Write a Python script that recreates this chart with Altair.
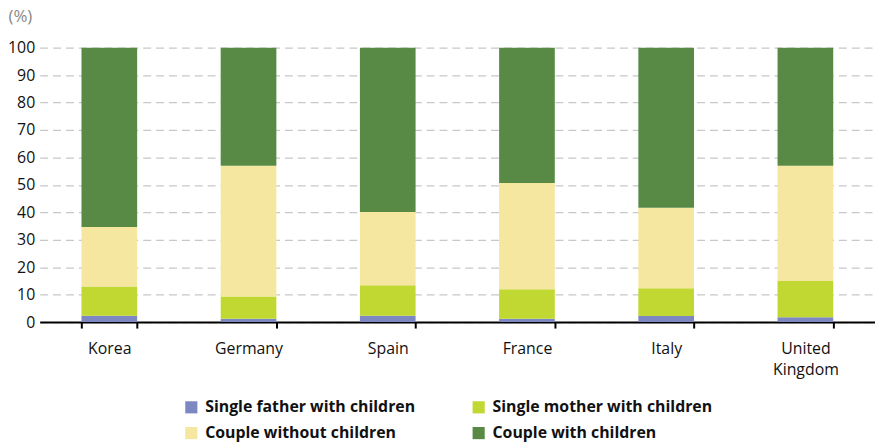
import altair as alt
import pandas as pd

countries = ["Korea", "Germany", "Spain", "France", "Italy", "United Kingdom"]
series = ["Single father with children", "Single mother with children",
          "Couple without children", "Couple with children"]
single_father = [2.3, 1.2, 2.3, 1.2, 2.2, 1.8]
single_mother = [10.7, 8.1, 11.1, 10.8, 10.1, 13.2]
couple_without = [21.7, 47.7, 26.7, 38.7, 29.4, 42.0]
couple_with = [65.3, 43.0, 59.9, 49.3, 58.3, 43.0]
colors = ["#7d87c2", "#c1d832", "#f5e6a0", "#588a45"]
y_ticks = [0, 10, 20, 30, 40, 50, 60, 70, 80, 90, 100]

rows = []
for i, c in enumerate(countries):
    for j, (s, vals) in enumerate(zip(series, [single_father, single_mother, couple_without, couple_with])):
        rows.append({"country": c, "series": s, "value": vals[i], "order": j})
df = pd.DataFrame(rows)

# legend is laid out column-major, so order the domain to read row-wise
legend_domain = [series[0], series[2], series[1], series[3]]
legend_range = [colors[0], colors[2], colors[1], colors[3]]

FONT = "Open Sans"

chart = alt.Chart(df).mark_bar().encode(
    x=alt.X("country:N", sort=countries,
            scale=alt.Scale(paddingInner=0.6, paddingOuter=0.3),
            axis=alt.Axis(title=None, labelAngle=0, tickBand="extent", domainColor="#000000",
                          domainWidth=2, tickColor="#000000", tickWidth=2, tickSize=6,
                          labelPadding=13, labelFontSize=16, labelColor="#111111", labelFont=FONT,
                          labelExpr="datum.label == 'United Kingdom' ? ['United', 'Kingdom'] : datum.label",
                          labelLineHeight=21, labelBaseline="top", grid=False)),
    y=alt.Y("value:Q", stack="zero",
            scale=alt.Scale(domain=[0, 100], nice=False),
            axis=alt.Axis(values=y_ticks, title="(%)", titleAngle=0, titleX=-32, titleY=-22,
                          titleAlign="left", titleBaseline="bottom", titleFontSize=17,
                          titleFontWeight="normal", titleColor="#888888", titleFont=FONT,
                          labelFontSize=16, labelColor="#111111", labelFont=FONT, labelPadding=5,
                          domain=False, ticks=False, grid=True, gridColor="#c8c8c8",
                          gridDash=[8, 5], gridWidth=1.2)),
    color=alt.Color("series:N", scale=alt.Scale(domain=legend_domain, range=legend_range),
                    legend=alt.Legend(title=None, orient="none", legendX=145, legendY=355,
                                      columns=2, columnPadding=46, rowPadding=10,
                                      symbolType="square", symbolSize=150, symbolStrokeWidth=0,
                                      labelFontSize=16, labelFontWeight="bold", labelFont=FONT,
                                      labelColor="#111111", padding=0, labelOffset=6,
                                      labelLimit=0, gridAlign="all")),
    order=alt.Order("order:Q", sort="ascending"),
).properties(
    width=843, height=277,
    autosize="none",
    padding={"left": 32, "top": 38, "right": 0, "bottom": 122},
).configure_view(stroke=None)

chart.save("out.html", embed_options={"renderer": "svg", "actions": False})
